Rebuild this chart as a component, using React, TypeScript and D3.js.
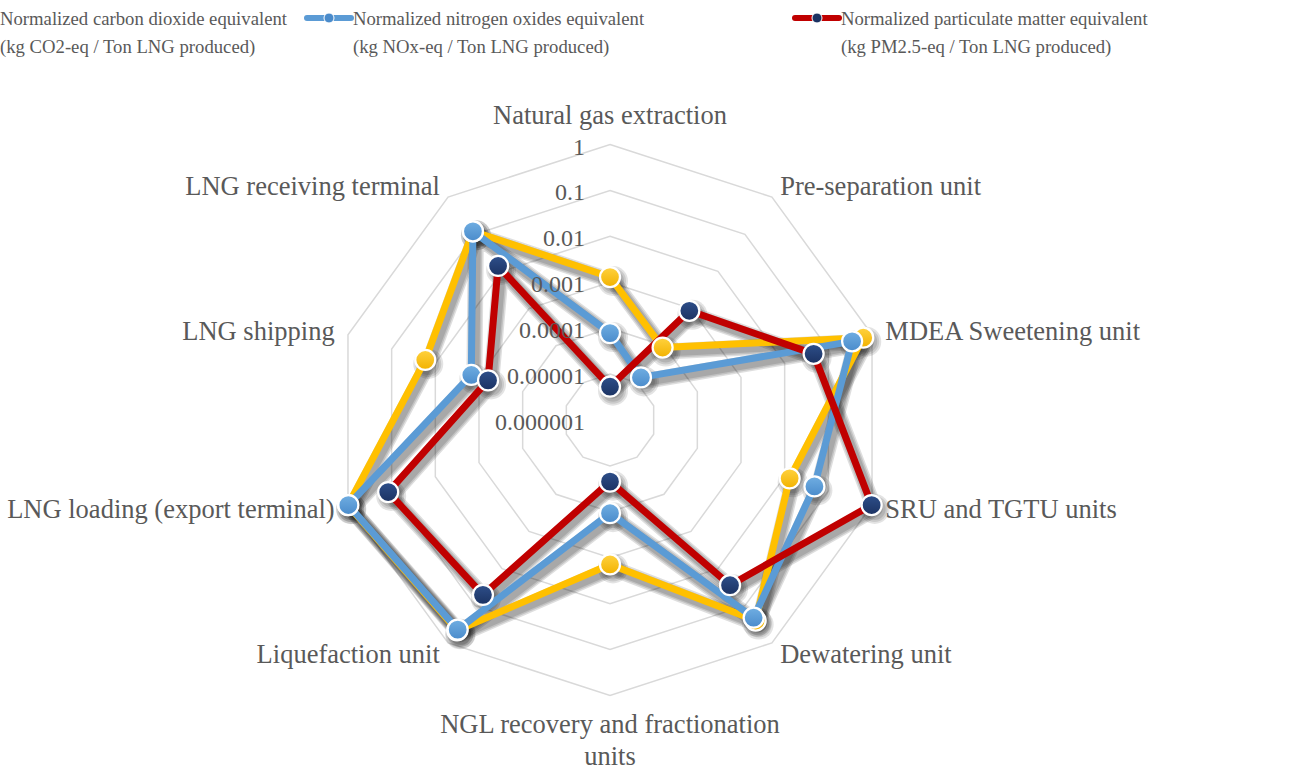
import * as d3 from 'd3';

// Radar chart of normalized emissions per LNG process unit (log scale)
const categories = [
  ['Natural gas extraction'],
  ['Pre-separation unit'],
  ['MDEA Sweetening unit'],
  ['SRU and TGTU units'],
  ['Dewatering unit'],
  ['NGL recovery and fractionation', 'units'],
  ['Liquefaction unit'],
  ['LNG loading (export terminal)'],
  ['LNG shipping'],
  ['LNG receiving terminal'],
];

const co2Values = [0.0013, 0.000089, 0.63, 0.013, 0.25, 0.0014, 0.46, 1.0, 0.017, 0.12];
const noxValues = [0.000078, 0.000014, 0.35, 0.048, 0.21, 0.000107, 0.44, 0.98, 0.0015, 0.12];
const pmValues = [0.0000053, 0.00087, 0.046, 0.98, 0.028, 0.000022, 0.051, 0.12, 0.00062, 0.014];

const tickValues = [0.000001, 0.00001, 0.0001, 0.001, 0.01, 0.1, 1];
const tickLabels = ['0.000001', '0.00001', '0.0001', '0.001', '0.01', '0.1', '1'];

const seriesNames = [
  ['Normalized carbon dioxide equivalent', '(kg CO2-eq / Ton LNG produced)'],
  ['Normalized nitrogen oxides equivalent', '(kg NOx-eq / Ton LNG produced)'],
  ['Normalized particulate matter equivalent', '(kg PM2.5-eq / Ton LNG produced)'],
];

const W = 1309;
const H = 769;
const cx = 610;
const cy = 420;
const R = 275.5;
const FONT = '"Liberation Serif", "Times New Roman", serif';
const TEXT = '#595959';

const series = [
  { values: co2Values, line: '#FFC000', mk: ['#FFD23F', '#F2B200'], grad: 'gY' },
  { values: noxValues, line: '#5B9BD5', mk: ['#70AEE2', '#4A8BCB'], grad: 'gB' },
  { values: pmValues, line: '#C00000', mk: ['#2E4F8A', '#1B3262'], grad: 'gD' },
];

// soft shadow approximated by stacked translucent strokes
const shadowWidths = [16, 13, 10];

export default function App() {
  const n = categories.length;
  const rScale = d3.scaleLog().domain([1e-6, 1]).range([0, R]);
  const angle = (i: number) => (i * 2 * Math.PI) / n;
  const pt = (i: number, r: number): [number, number] => [
    cx + r * Math.sin(angle(i)),
    cy - r * Math.cos(angle(i)),
  ];

  const radial = d3
    .lineRadial<number>()
    .angle((_, i) => angle(i))
    .radius((d) => rScale(d))
    .curve(d3.curveLinearClosed);

  const rings = tickValues.filter((t) => t > 1e-6);

  // category label positions
  const labelPad = 14;
  const labels = categories.map((lines, i) => {
    const s = Math.sin(angle(i));
    const c = Math.cos(angle(i));
    let [x, y] = pt(i, R + labelPad);
    let anchor = 'middle';
    if (s > 0.01) anchor = 'start';
    else if (s < -0.01) anchor = 'end';
    if (Math.abs(s) < 0.01) y += c > 0 ? -16 : 14;
    return { lines, x, y, anchor };
  });

  const legendX = [0, 353, 841];
  const markerX = [-60, 307, 795];

  return (
    <svg
      width={W}
      height={H}
      style={{ position: 'absolute', left: 0, top: 0, background: '#fff' }}
      fontFamily={FONT}
    >
      <defs>
        {series.map((s) => (
          <linearGradient key={s.grad} id={s.grad} x1="0" y1="0" x2="0" y2="1">
            <stop offset="0%" stopColor={s.mk[0]} />
            <stop offset="100%" stopColor={s.mk[1]} />
          </linearGradient>
        ))}
      </defs>

      {/* grid rings */}
      <g transform={`translate(${cx},${cy})`}>
        {rings.map((t) => (
          <path
            key={t}
            d={radial(new Array(n).fill(t)) ?? ''}
            fill="none"
            stroke="#D9D9D9"
            strokeWidth={1.5}
          />
        ))}
      </g>

      {/* shadows */}
      <g transform={`translate(${cx + 3},${cy + 4})`}>
        {series.map((s, si) =>
          shadowWidths.map((w) => (
            <path
              key={`${si}-${w}`}
              d={radial(s.values) ?? ''}
              fill="none"
              stroke="#000"
              strokeOpacity={0.13}
              strokeWidth={w}
              strokeLinejoin="round"
            />
          )),
        )}
      </g>
      <g transform="translate(3,4)">
        {series.map((s, si) =>
          s.values.map((v, i) => {
            const [x, y] = pt(i, rScale(v));
            return [15, 13, 11].map((r) => (
              <circle key={`${si}-${i}-${r}`} cx={x} cy={y} r={r} fill="#000" fillOpacity={0.11} />
            ));
          }),
        )}
      </g>

      {/* series lines */}
      <g transform={`translate(${cx},${cy})`}>
        {series.map((s, si) => (
          <path
            key={si}
            d={radial(s.values) ?? ''}
            fill="none"
            stroke={s.line}
            strokeWidth={7}
            strokeLinejoin="round"
          />
        ))}
      </g>

      {/* markers */}
      {series.map((s, si) =>
        s.values.map((v, i) => {
          const [x, y] = pt(i, rScale(v));
          return (
            <circle
              key={`${si}-${i}`}
              cx={x}
              cy={y}
              r={10}
              fill={`url(#${s.grad})`}
              stroke="#fff"
              strokeWidth={2.25}
            />
          );
        }),
      )}

      {/* value axis labels, drawn over the series */}
      {tickValues.map((t, i) => (
        <text
          key={t}
          x={cx - 25}
          y={cy - rScale(t) + 2}
          textAnchor="end"
          dominantBaseline="central"
          fontSize={24}
          fill={TEXT}
        >
          {tickLabels[i]}
        </text>
      ))}

      {/* category labels */}
      {labels.map((l, i) => (
        <text key={i} x={l.x} y={l.y} textAnchor={l.anchor} fontSize={26.5} fill={TEXT}>
          {l.lines.map((line, j) => (
            <tspan key={j} x={l.x} y={l.y + j * 32} dominantBaseline="central">
              {line}
            </tspan>
          ))}
        </text>
      ))}

      {/* legend */}
      {series.map((s, si) => (
        <g key={si}>
          <line
            x1={markerX[si]}
            x2={markerX[si] + 44}
            y1={18}
            y2={18}
            stroke={s.line}
            strokeWidth={6}
            strokeLinecap="round"
          />
          <circle cx={markerX[si] + 22} cy={18} r={5} fill={s.mk[1]} stroke="#fff" strokeWidth={1} />
          {seriesNames[si].map((line, j) => (
            <text
              key={j}
              x={legendX[si]}
              y={18 + j * 28.5}
              dominantBaseline="central"
              fontSize={18.7}
              fill={TEXT}
            >
              {line}
            </text>
          ))}
        </g>
      ))}
    </svg>
  );
}
